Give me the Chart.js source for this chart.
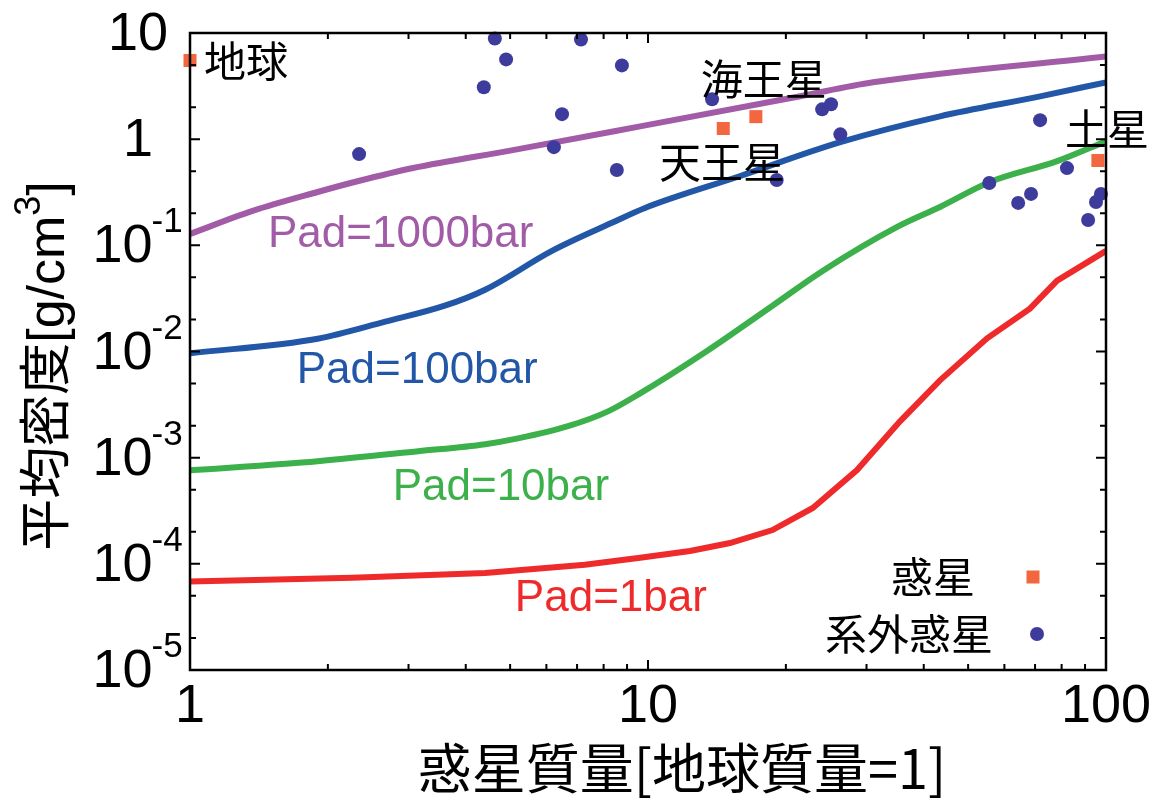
<!DOCTYPE html>
<html lang="ja">
<head>
<meta charset="UTF-8">
<title>惑星質量と平均密度</title>
<script src="https://cdn.jsdelivr.net/npm/chart.js@4.4.0/dist/chart.umd.min.js"></script>
<style>
  body { margin: 0; background: #fff; }
</style>
</head>
<body>
<canvas id="canvas" width="1176" height="803"></canvas>
<script>
// 大気圧ごとの平均密度カーブ  [惑星質量, 平均密度]
const pad1000 = [[1, 0.128], [1.37, 0.211], [1.9, 0.318], [2.31, 0.399], [3.07, 0.535], [5.07, 0.789],
                 [9.61, 1.32], [21.5, 2.54], [31, 3.43], [100, 6.01]];
const pad100 = [[1, 0.0096], [1.9, 0.0132], [2.67, 0.0191], [3.6, 0.027], [4.41, 0.0382],
                [6.17, 0.0887], [8.34, 0.163], [9.85, 0.225], [15.9, 0.45], [26.3, 0.937], [43.4, 1.64],
                [71.8, 2.53], [100, 3.43]];
const pad10 = [[1, 7.6e-4], [1.9, 9.27e-4], [3.15, 1.15e-3], [4.41, 1.34e-3], [5.2, 1.52e-3], [6.69, 1.98e-3],
               [8.18, 2.73e-3], [9.61, 4.03e-3], [13.4, 0.0100], [18.7, 0.027], [24.1, 0.0577], [35, 0.149],
               [43.4, 0.23], [55.8, 0.395], [78.2, 0.621], [100, 0.957]];
const pad1 = [[1, 6.8e-5], [2.26, 7.4e-5], [4.41, 8.2e-5], [7.28, 9.8e-5], [9.61, 1.14e-4], [12.35, 1.32e-4],
              [15.1, 1.57e-4], [18.7, 2.08e-4], [22.9, 3.36e-4], [28.6, 7.64e-4], [35.5, 2.2e-3],
              [43.4, 5.35e-3], [55, 0.0133], [68.2, 0.0253], [78.2, 0.0464], [100, 0.0887]];

// 太陽系の惑星（地球・天王星・海王星・土星）
const planets = [[1, 5.51], [14.6, 1.26], [17.2, 1.63], [96, 0.63]];

// 系外惑星
const exoplanets = [[4.63, 8.88], [4.9, 5.64], [4.38, 3.08], [7.14, 8.69], [8.77, 4.95], [2.34, 0.723],
                    [6.49, 1.72], [6.23, 0.841], [8.55, 0.512], [13.8, 2.38], [24.0, 1.91], [25.1, 2.13],
                    [26.3, 1.11], [19.1, 0.412], [71.8, 1.51], [55.6, 0.386], [64.3, 0.251], [68.6, 0.305],
                    [82.2, 0.534], [97.5, 0.305], [95.1, 0.256], [91.4, 0.173]];

// 目盛り
const xTicks = [1, 10, 100];
const xTickLabels = ['1', '10', '100'];
const yTicks = [10, 1, 0.1, 0.01, 1e-3, 1e-4, 1e-5];
const yTickLabels = [['10', ''], ['1', ''], ['10', '-1'], ['10', '-2'], ['10', '-3'], ['10', '-4'], ['10', '-5']];

// 注記（データ座標）
const curveLabels = [
  { text: 'Pad=1000bar', x: 1.48, y: 0.0968, color: '#a25ca7' },
  { text: 'Pad=100bar', x: 1.71, y: 5.0e-3, color: '#2257a8' },
  { text: 'Pad=10bar', x: 2.77, y: 4.0e-4, color: '#3cb04a' },
  { text: 'Pad=1bar', x: 5.12, y: 3.6e-5, color: '#ee2a2a' }
];
const planetLabels = [
  { text: '地球', x: 1.325, y: 5.4 },
  { text: '海王星', x: 17.9, y: 3.66 },
  { text: '天王星', x: 14.5, y: 0.608 },
  { text: '土星', x: 100.5, y: 1.24 }
];

const LATIN = "'Liberation Sans', 'Noto Sans CJK JP', sans-serif";
const CJK = "'Noto Sans CJK JP', 'Liberation Sans', sans-serif";
const planetColor = '#f2673f';
const exoColor = '#3d3c9c';

function toPts(arr) {
  return arr.map(p => ({ x: p[0], y: p[1] }));
}

const framePlugin = {
  id: 'framePlugin',
  afterDatasetsDraw(chart) {
    const ctx = chart.ctx;
    const a = chart.chartArea;
    const x = chart.scales.x;
    const y = chart.scales.y;
    ctx.save();

    // 目盛り線（内向き、四辺）
    ctx.strokeStyle = '#000';
    ctx.lineWidth = 2;
    ctx.beginPath();
    for (let d = 1; d < 100; d *= 10) {
      for (let m = 1; m <= 10; m++) {
        const px = x.getPixelForValue(m * d);
        const len = (m === 1 || m === 10) ? 10 : 6;
        ctx.moveTo(px, a.bottom); ctx.lineTo(px, a.bottom - len);
        ctx.moveTo(px, a.top); ctx.lineTo(px, a.top + len);
      }
    }
    for (let d = 1e-5; d < 10; d *= 10) {
      [1, 2, 5, 10].forEach(m => {
        const py = y.getPixelForValue(m * d);
        const len = (m === 1 || m === 10) ? 10 : 6;
        ctx.moveTo(a.left, py); ctx.lineTo(a.left + len, py);
        ctx.moveTo(a.right, py); ctx.lineTo(a.right - len, py);
      });
    }
    ctx.stroke();
    ctx.lineWidth = 2.5;
    ctx.strokeRect(a.left, a.top, a.right - a.left, a.bottom - a.top);

    // x 目盛りラベル
    ctx.fillStyle = '#000';
    ctx.font = '54px ' + LATIN;
    ctx.textAlign = 'center';
    ctx.textBaseline = 'alphabetic';
    xTicks.forEach((v, i) => {
      ctx.fillText(xTickLabels[i], x.getPixelForValue(v), a.bottom + 52);
    });

    // y 目盛りラベル（指数は上付き）
    const cx = a.left - 52;
    yTicks.forEach((v, i) => {
      const py = y.getPixelForValue(v);
      const base = yTickLabels[i][0];
      const exp = yTickLabels[i][1];
      ctx.font = '54px ' + LATIN;
      const w1 = ctx.measureText(base).width;
      ctx.font = '35px ' + LATIN;
      const w2 = exp ? ctx.measureText(exp).width : 0;
      const x0 = cx - (w1 + w2) / 2;
      ctx.textAlign = 'left';
      ctx.font = '54px ' + LATIN;
      ctx.fillText(base, x0, py + 17);
      if (exp) {
        ctx.font = '35px ' + LATIN;
        ctx.fillText(exp, x0 + w1 - 1, py - 13);
      }
    });

    // 軸タイトル
    ctx.textAlign = 'center';
    ctx.textBaseline = 'middle';
    ctx.font = '54px ' + CJK;
    ctx.fillText('惑星質量[地球質量=1]', 682, 768);

    ctx.save();
    ctx.translate(64, 366);
    ctx.rotate(-Math.PI / 2);
    ctx.textBaseline = 'alphabetic';
    const t1 = '平均密度[g/cm', t2 = '3', t3 = ']';
    ctx.font = '52px ' + LATIN;
    const w1 = ctx.measureText(t1).width;
    const w3 = ctx.measureText(t3).width;
    ctx.font = '36px ' + LATIN;
    const w2 = ctx.measureText(t2).width;
    let sx = -(w1 + w2 + w3) / 2;
    ctx.textAlign = 'left';
    ctx.font = '52px ' + LATIN;
    ctx.fillText(t1, sx, 0);
    ctx.font = '36px ' + LATIN;
    ctx.fillText(t2, sx + w1, -24);
    ctx.font = '52px ' + LATIN;
    ctx.fillText(t3, sx + w1 + w2, 0);
    ctx.restore();

    // カーブのラベル
    ctx.textAlign = 'left';
    ctx.textBaseline = 'alphabetic';
    ctx.font = '44px ' + LATIN;
    curveLabels.forEach(l => {
      ctx.fillStyle = l.color;
      ctx.fillText(l.text, x.getPixelForValue(l.x), y.getPixelForValue(l.y));
    });

    // 惑星名
    ctx.fillStyle = '#000';
    ctx.textAlign = 'center';
    ctx.textBaseline = 'middle';
    ctx.font = '42px ' + CJK;
    planetLabels.forEach(l => {
      ctx.fillText(l.text, x.getPixelForValue(l.x), y.getPixelForValue(l.y));
    });

    // 凡例
    ctx.textAlign = 'right';
    ctx.font = '42px ' + CJK;
    ctx.fillText('惑星', a.right - 131, a.bottom - 93);
    ctx.fillText('系外惑星', a.right - 113, a.bottom - 36);
    ctx.fillStyle = planetColor;
    ctx.fillRect(a.right - 79.5, a.bottom - 99.5, 13, 13);
    ctx.fillStyle = exoColor;
    ctx.beginPath();
    ctx.arc(a.right - 69, a.bottom - 36, 7, 0, Math.PI * 2);
    ctx.fill();

    ctx.restore();
  }
};

const lineSet = (data, color) => ({
  data: toPts(data),
  showLine: true,
  borderColor: color,
  borderWidth: 6,
  pointRadius: 0,
  cubicInterpolationMode: 'monotone',
  fill: false,
  order: 2
});

const ctx = document.getElementById('canvas').getContext('2d');
const chart = new Chart(ctx, {
  type: 'scatter',
  data: {
    datasets: [
      lineSet(pad1000, '#a25ca7'),
      lineSet(pad100, '#2257a8'),
      lineSet(pad10, '#3cb04a'),
      Object.assign(lineSet(pad1, '#ee2a2a'), { cubicInterpolationMode: 'default', tension: 0 }),
      {
        data: toPts(planets),
        pointStyle: 'rect',
        pointRadius: 9.2,
        backgroundColor: planetColor,
        borderWidth: 0,
        clip: false,
        order: 1
      },
      {
        data: toPts(exoplanets),
        pointStyle: 'circle',
        pointRadius: 7,
        backgroundColor: exoColor,
        borderWidth: 0,
        clip: false,
        order: 0
      }
    ]
  },
  options: {
    responsive: false,
    devicePixelRatio: 1,
    animation: false,
    layout: { padding: { left: 190, right: 70, top: 33, bottom: 133 } },
    scales: {
      x: { type: 'logarithmic', min: 1, max: 100, display: false },
      y: { type: 'logarithmic', min: 1e-5, max: 10, display: false }
    },
    plugins: {
      legend: { display: false },
      tooltip: { enabled: false }
    }
  },
  plugins: [framePlugin]
});
</script>
</body>
</html>
